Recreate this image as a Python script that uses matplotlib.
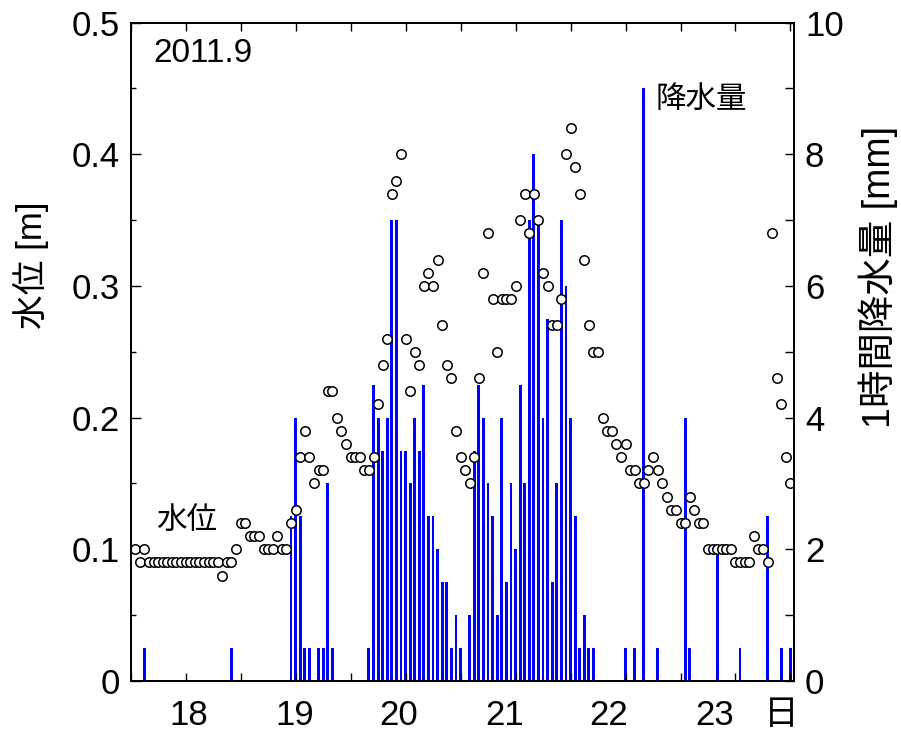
import numpy as np
import matplotlib
matplotlib.use("Agg")
import matplotlib.pyplot as plt
import matplotlib.transforms as mtransforms
from matplotlib.ticker import MultipleLocator, NullFormatter

plt.rcParams['font.family'] = ['Liberation Sans', 'Noto Sans CJK JP']

# %%
# hourly data from 2011-09-17 12:00 (hour index 1..144)
start_day = 17.5
levels = [
    0.10, 0.09, 0.10, 0.09, 0.09, 0.09, 0.09, 0.09, 0.09, 0.09, 0.09, 0.09,
    0.09, 0.09, 0.09, 0.09, 0.09, 0.09, 0.09, 0.08, 0.09, 0.09, 0.10, 0.12,
    0.12, 0.11, 0.11, 0.11, 0.10, 0.10, 0.10, 0.11, 0.10, 0.10, 0.12, 0.13,
    0.17, 0.19, 0.17, 0.15, 0.16, 0.16, 0.22, 0.22, 0.20, 0.19, 0.18, 0.17,
    0.17, 0.17, 0.16, 0.16, 0.17, 0.21, 0.24, 0.26, 0.37, 0.38, 0.40, 0.26,
    0.22, 0.25, 0.24, 0.30, 0.31, 0.30, 0.32, 0.27, 0.24, 0.23, 0.19, 0.17,
    0.16, 0.15, 0.17, 0.23, 0.31, 0.34, 0.29, 0.25, 0.29, 0.29, 0.29, 0.30,
    0.35, 0.37, 0.34, 0.37, 0.35, 0.31, 0.30, 0.27, 0.27, 0.29, 0.40, 0.42,
    0.39, 0.37, 0.32, 0.27, 0.25, 0.25, 0.20, 0.19, 0.19, 0.18, 0.17, 0.18,
    0.16, 0.16, 0.15, 0.15, 0.16, 0.17, 0.16, 0.15, 0.14, 0.13, 0.13, 0.12,
    0.12, 0.14, 0.13, 0.12, 0.12, 0.10, 0.10, 0.10, 0.10, 0.10, 0.10, 0.09,
    0.09, 0.09, 0.09, 0.11, 0.10, 0.10, 0.09, 0.34, 0.23, 0.21, 0.17, 0.15,
]
level_hours = list(range(1, len(levels) + 1))

rain_hours = [3, 22, 35, 36, 37, 38, 39, 41, 42, 43, 44,
              52, 53, 54, 55, 56, 57, 58, 59, 60, 61, 62, 63, 64, 65, 66,
              67, 68, 69, 70, 71, 72, 74, 75, 76, 77, 78, 79, 80, 81, 82,
              83, 84, 85, 86, 87, 88, 89, 90, 91, 92, 93, 94, 95, 96, 97,
              98, 99, 100, 101, 108, 110, 112, 115, 121, 122, 128, 133,
              139, 142, 144]
rain_mm = [0.5, 0.5, 2.5, 4.0, 2.5, 0.5, 0.5, 0.5, 0.5, 3.0, 0.5,
           0.5, 4.5, 4.0, 3.5, 4.0, 7.0, 7.0, 3.5, 3.5, 3.0, 4.0, 3.5, 4.5, 2.5, 2.5,
           2.0, 1.5, 1.5, 0.5, 1.0, 0.5, 1.0, 3.5, 4.5, 4.0, 3.0, 2.5, 1.0, 4.0, 1.5,
           3.0, 2.0, 4.5, 3.0, 7.0, 8.0, 7.0, 4.0, 5.5, 1.5, 3.0, 7.0, 6.0, 4.0, 2.5,
           0.5, 1.0, 0.5, 0.5, 0.5, 0.5, 9.0, 0.5, 4.0, 0.5, 2.0, 0.5,
           2.5, 0.5, 0.5]

day_ticks = [18, 19, 20, 21, 22, 23]
day_labels = ["18", "19", "20", "21", "22", "23"]
# labels in the original sit a little left of their ticks
day_label_pos = [18.03, 18.99, 19.94, 20.90, 21.85, 22.81]

t_level = start_day + np.array(level_hours) / 24
t_rain = start_day + np.array(rain_hours) / 24

# %%
fig = plt.figure(figsize=(9.01, 7.36), dpi=100)
ax = fig.add_axes([0.145, 0.0747, 0.736, 0.8947])
ax2 = ax.twinx()
ax.set_zorder(ax2.get_zorder() + 1)
ax.patch.set_visible(False)

# rainfall bars (right axis)
ax2.bar(t_rain, rain_mm, width=0.62 / 24, color="#0000ff", linewidth=0)
ax2.set_ylim(0, 10)
ax2.yaxis.set_major_locator(MultipleLocator(2))
ax2.yaxis.set_minor_locator(MultipleLocator(1))

# water level circles (left axis)
ax.plot(t_level, levels, "o", ms=6.8, mfc="white", mec="black", mew=1.1)
ax.set_ylim(0, 0.5)
ax.set_xlim(17.5, 23.53)
ax.yaxis.set_major_locator(MultipleLocator(0.1))
ax.yaxis.set_minor_locator(MultipleLocator(0.05))
ax.yaxis.set_major_formatter(plt.FuncFormatter(lambda v, p: "0" if v == 0 else f"{v:.1f}"))
ax.set_xticks(day_ticks)
ax.xaxis.set_major_formatter(NullFormatter())
ax.xaxis.set_minor_locator(MultipleLocator(0.5))

ax.tick_params(axis="y", which="major", direction="in", length=7, width=1,
               labelsize=25, pad=8, right=False)
ax.tick_params(axis="y", which="minor", direction="in", length=3.5, width=1, right=False)
ax.tick_params(axis="x", which="both", direction="in", length=6, width=1, top=True)
ax2.tick_params(axis="y", which="both", direction="in", length=6.5, width=1,
                labelsize=25, pad=8)
for a in (ax, ax2):
    for s in a.spines.values():
        s.set_linewidth(1.3)

# day labels under the axis
trans = mtransforms.blended_transform_factory(ax.transData, ax.transAxes)
for pos, lab in zip(day_label_pos, day_labels):
    ax.text(pos, -0.052, lab, transform=trans, ha="center", va="center", fontsize=25)
fig.text(0.867, 0.029, "日", ha="center", va="center", fontsize=25)

# axis titles and annotations
fig.text(0.034, 0.64, "水位 [m]", rotation=90, ha="center", va="center", fontsize=25)
fig.text(0.975, 0.624, "1時間降水量 [mm]", rotation=90, ha="center", va="center", fontsize=27)
ax.text(0.035, 0.953, "2011.9", transform=ax.transAxes, ha="left", va="center", fontsize=24)
ax.text(0.86, 0.882, "降水量", transform=ax.transAxes, ha="center", va="center", fontsize=22)
ax.text(0.084, 0.243, "水位", transform=ax.transAxes, ha="center", va="center", fontsize=22)

fig.savefig("out.png", dpi=100)
